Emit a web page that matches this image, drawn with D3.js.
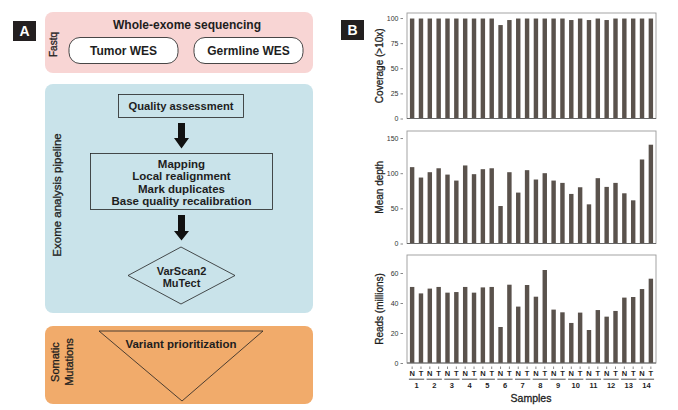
<!DOCTYPE html>
<html><head><meta charset="utf-8">
<script src="https://cdn.jsdelivr.net/npm/d3@7"></script>
<style>
body{margin:0;background:#fff;}
svg{display:block;font-family:"Liberation Sans",Arial,sans-serif;}
</style></head>
<body><svg id="c" width="678" height="410"></svg>
<script>
// ---- data ----
const samples = ["1","2","3","4","5","6","7","8","9","10","11","12","13","14"];
const sampleTypes = ["N","T"];
const coverage = [99.5,99.5,99.5,99.5,99.5,99.5,99.5,99.5,99.5,99.5,93,98,99.5,99.5,99.5,99.5,99.5,99.5,98,99.5,98,99.5,98,99.5,99.5,99.5,99.5,99.5];
const meanDepth = [108.6,93.8,101.4,107,98,89.5,111,98.6,105.7,107,53.3,101.4,72.4,104.3,91,100,89.5,86.2,70.5,80,55.7,92.9,80.5,86.2,71.4,61.4,119.5,140.5];
const reads = [50.7,46.4,49.6,50.7,46.9,47.3,50.7,46.9,50.4,50.7,24,52.2,37.6,52,44.2,62,35.6,33.8,26.7,33.6,22,35.3,30.9,34.7,43.6,44,49.3,56.2];
const coverageTicks = [0,25,50,75,100];
const depthTicks = [0,50,100,150];
const readsTicks = [0,20,40,60];
const pipelineSteps = ["Mapping","Local realignment","Mark duplicates","Base quality recalibration"];
const callers = ["VarScan2","MuTect"];

const svg = d3.select("#c");
const barColor = "#5a524c";
const ink = "#1e1e1e";

// ---- Panel A ----
function labelBox(x,y,t){
  svg.append("rect").attr("x",x).attr("y",y).attr("width",23).attr("height",20).attr("fill","#231f20");
  svg.append("text").attr("x",x+11.5).attr("y",y+15).attr("text-anchor","middle")
    .attr("fill","#fff").attr("font-weight","bold").attr("font-size",14).text(t);
}
labelBox(13,21,"A");
labelBox(341,20,"B");

const A = svg.append("g").attr("fill",ink);
function medium(sel){ return sel.attr("stroke",ink).attr("stroke-width",0.3); }
// pink
A.append("rect").attr("x",45).attr("y",12).attr("width",268).attr("height",61).attr("rx",8).attr("fill","#f8d5d4");
A.append("text").attr("x",187).attr("y",29).attr("text-anchor","middle").attr("font-weight","bold").attr("font-size",12).text("Whole-exome sequencing");
[["Tumor WES",69],["Germline WES",194]].forEach(([t,x])=>{
  A.append("rect").attr("x",x).attr("y",37.5).attr("width",109).attr("height",26).attr("rx",11).attr("fill","#fff").attr("stroke","#333").attr("stroke-width",0.9);
  A.append("text").attr("x",x+54.5).attr("y",55).attr("text-anchor","middle").attr("font-weight","bold").attr("font-size",12).text(t);
});
medium(A.append("text").attr("transform","translate(57,44.5) rotate(-90)").attr("text-anchor","middle").attr("font-size",10).text("Fastq"));

// blue
A.append("rect").attr("x",45).attr("y",84).attr("width",268).attr("height",229).attr("rx",8).attr("fill","#c9e3ea");
medium(A.append("text").attr("transform","translate(61,195) rotate(-90)").attr("text-anchor","middle").attr("font-size",11.5).text("Exome analysis pipeline"));
A.append("rect").attr("x",118.5).attr("y",94.5).attr("width",125).attr("height",23).attr("fill","none").attr("stroke","#222").attr("stroke-width",0.8);
A.append("text").attr("x",181).attr("y",110).attr("text-anchor","middle").attr("font-weight","bold").attr("font-size",11.2).text("Quality assessment");

function arrow(y0,y1,y2){
  const cx=181.5;
  A.append("path").attr("d",`M${cx-3.5},${y0}H${cx+3.5}V${y1}H${cx+7.5}L${cx},${y2}L${cx-7.5},${y1}H${cx-3.5}Z`).attr("fill","#111");
}
arrow(123,138,148.5);
arrow(215,231,240.5);

A.append("rect").attr("x",90.5).attr("y",153.5).attr("width",182).attr("height",56).attr("fill","none").attr("stroke","#222").attr("stroke-width",0.8);
pipelineSteps.forEach((t,i)=>{
  A.append("text").attr("x",181.5).attr("y",168+i*12.4).attr("text-anchor","middle").attr("font-weight","bold").attr("font-size",11.5).text(t);
});
A.append("path").attr("d","M181,247L235,275.5L181,304L128,275.5Z").attr("fill","none").attr("stroke","#222").attr("stroke-width",0.8);
callers.forEach((t,i)=>{
  A.append("text").attr("x",181.5).attr("y",274.5+i*12).attr("text-anchor","middle").attr("font-weight","bold").attr("font-size",11).text(t);
});

// orange
A.append("rect").attr("x",45).attr("y",326).attr("width",268).attr("height",78).attr("rx",8).attr("fill","#f1ab6b");
A.append("path").attr("d","M99,331H263L182,401Z").attr("fill","none").attr("stroke","#222").attr("stroke-width",0.8);
A.append("text").attr("x",181).attr("y",347.5).attr("text-anchor","middle").attr("font-weight","bold").attr("font-size",11.5).text("Variant prioritization");
medium(A.append("text").attr("transform","translate(59,362) rotate(-90)").attr("text-anchor","middle").attr("font-size",11).text("Somatic"));
medium(A.append("text").attr("transform","translate(73,362) rotate(-90)").attr("text-anchor","middle").attr("font-size",11).text("Mutations"));

// ---- Panel B ----
const keys = [];
samples.forEach(s=>sampleTypes.forEach(t=>keys.push(s+t)));
const x = d3.scaleBand().domain(keys).range([407,656]).paddingInner(0.5).paddingOuter(0.33);

function chart(values, ticks, maxV, top, bottom, label){
  const y = d3.scaleLinear().domain([0,maxV]).range([bottom,top]);
  const g = svg.append("g");
  g.append("rect").attr("x",407).attr("y",top).attr("width",249).attr("height",bottom-top)
    .attr("fill","none").attr("stroke","#9a9a9a").attr("stroke-width",0.9);
  g.selectAll(".bar").data(values).join("rect")
    .attr("x",(d,i)=>x(keys[i])).attr("width",x.bandwidth())
    .attr("y",d=>y(d)).attr("height",d=>bottom-y(d)).attr("fill",barColor);
  g.append("line").attr("x1",407).attr("x2",656).attr("y1",bottom).attr("y2",bottom).attr("stroke","#666").attr("stroke-width",1);
  const ax = g.append("g").attr("transform","translate(403,0)")
    .call(d3.axisLeft(y).tickValues(ticks).tickSize(2.5).tickPadding(2));
  ax.select(".domain").remove();
  ax.selectAll("line").attr("stroke","#888");
  ax.selectAll("text").attr("font-size",7).attr("fill","#333").attr("font-family","Liberation Sans, Arial, sans-serif");
  medium(g.append("text").attr("transform",`translate(383,${(top+bottom)/2}) rotate(-90)`).attr("text-anchor","middle")
    .attr("font-size",10).attr("fill",ink).text(label));
  return y;
}
chart(coverage, coverageTicks, 105, 13, 118.5, "Coverage (>10x)");
chart(meanDepth, depthTicks, 160, 131, 243.5, "Mean depth");
chart(reads, readsTicks, 72, 255, 363, "Reads (millions)");

// x axis
const xa = svg.append("g").attr("transform","translate(0,366.5)")
  .call(d3.axisBottom(x).tickSize(2.5).tickPadding(2).tickFormat(k=>k.slice(-1)));
xa.select(".domain").remove();
xa.selectAll("line").attr("stroke","#888");
xa.selectAll("text").attr("font-size",7.5).attr("font-weight","bold").attr("fill",ink).attr("font-family","Liberation Sans, Arial, sans-serif");
samples.forEach(s=>{
  const x0 = x(s+"N"), x1 = x(s+"T")+x.bandwidth();
  svg.append("line").attr("x1",x0-1).attr("x2",x1+1).attr("y1",379.2).attr("y2",379.2).attr("stroke","#222").attr("stroke-width",0.8);
  svg.append("text").attr("x",(x0+x1)/2).attr("y",388).attr("text-anchor","middle").attr("font-size",7.5).attr("font-weight","bold").attr("fill",ink).text(s);
});
medium(svg.append("text").attr("x",531).attr("y",401.5).attr("text-anchor","middle").attr("font-size",10.5).attr("fill",ink).text("Samples"));
</script></body></html>
